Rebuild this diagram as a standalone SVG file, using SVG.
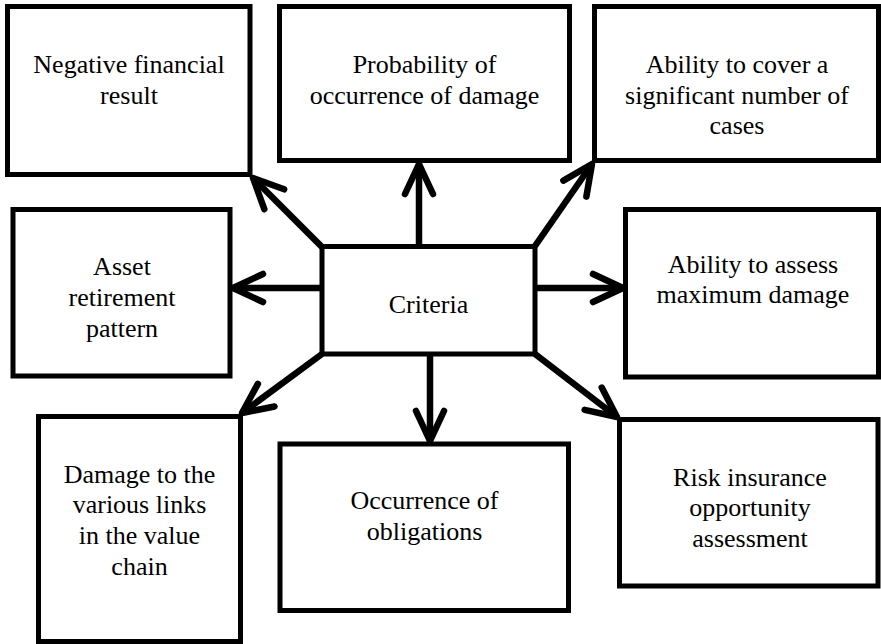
<svg xmlns="http://www.w3.org/2000/svg" width="881" height="644" viewBox="0 0 881 644">
<defs>
<style>
.box{fill:#fff;stroke:#000;stroke-width:5}
.c{fill:none;stroke:#000;stroke-width:6.5;stroke-linecap:butt}
</style>
<marker id="ah" markerUnits="userSpaceOnUse" markerWidth="80" markerHeight="80" viewBox="-40 -40 80 80" refX="0" refY="0" orient="auto" overflow="visible">
<path d="M-30,-14 L0,0 L-30,14" fill="none" stroke="#000" stroke-width="6.5" stroke-linecap="round" stroke-linejoin="round"/>
</marker>
</defs>
<rect width="881" height="644" fill="#fff"/>
<g id="connectors">
<line class="c" x1="322" y1="247" x2="253" y2="178" marker-end="url(#ah)"/>
<line class="c" x1="419" y1="246" x2="419" y2="164" marker-end="url(#ah)"/>
<line class="c" x1="535" y1="246" x2="592" y2="164" marker-end="url(#ah)"/>
<line class="c" x1="322" y1="288" x2="233" y2="288" marker-end="url(#ah)"/>
<line class="c" x1="535" y1="288" x2="623" y2="288" marker-end="url(#ah)"/>
<line class="c" x1="322" y1="354" x2="242" y2="413" marker-end="url(#ah)"/>
<line class="c" x1="430" y1="354" x2="430" y2="441" marker-end="url(#ah)"/>
<line class="c" x1="535" y1="354" x2="617" y2="417" marker-end="url(#ah)"/>
</g>
<g font-family="Liberation Serif, Times New Roman, DejaVu Serif, serif" font-size="26" fill="#000" text-anchor="middle">
<g id="criteria">
<rect class="box" x="322" y="246.5" width="213" height="107.5"/>
<text x="428.5" y="313">Criteria</text>
</g>
<g id="negative-financial-result">
<rect class="box" x="7.5" y="6.5" width="242.5" height="168"/>
<text x="129" y="73">Negative financial</text>
<text x="129" y="103.5">result</text>
</g>
<g id="probability-of-damage">
<rect class="box" x="279.5" y="6.5" width="290" height="154"/>
<text x="424.5" y="73.3">Probability of</text>
<text x="424.5" y="103.5">occurrence of damage</text>
</g>
<g id="ability-to-cover">
<rect class="box" x="594.5" y="6.5" width="284" height="154"/>
<text x="737" y="73.3">Ability to cover a</text>
<text x="737" y="104">significant number of</text>
<text x="737" y="134.3">cases</text>
</g>
<g id="asset-retirement-pattern">
<rect class="box" x="13" y="209.5" width="217" height="166.5"/>
<text x="122" y="275">Asset</text>
<text x="122" y="306">retirement</text>
<text x="122" y="337">pattern</text>
</g>
<g id="ability-to-assess">
<rect class="box" x="625.5" y="209.5" width="253" height="167.5"/>
<text x="753" y="273">Ability to assess</text>
<text x="753" y="303">maximum damage</text>
</g>
<g id="damage-to-links">
<rect class="box" x="38.5" y="416.5" width="202" height="225"/>
<text x="139.5" y="482.5">Damage to the</text>
<text x="139.5" y="513">various links</text>
<text x="139.5" y="544">in the value</text>
<text x="139.5" y="575">chain</text>
</g>
<g id="occurrence-of-obligations">
<rect class="box" x="280" y="444" width="288.5" height="166.5"/>
<text x="424.5" y="509">Occurrence of</text>
<text x="424.5" y="539.5">obligations</text>
</g>
<g id="risk-insurance">
<rect class="box" x="619.5" y="419.5" width="258.5" height="166.5"/>
<text x="750" y="486">Risk insurance</text>
<text x="750" y="516">opportunity</text>
<text x="750" y="547">assessment</text>
</g>
</g>
</svg>
